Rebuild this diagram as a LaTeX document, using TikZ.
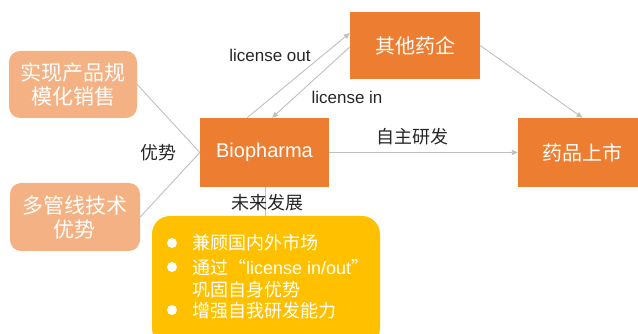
\documentclass[tikz,border=0pt]{standalone}
\usepackage{fontspec}
\setmainfont{Liberation Sans}
\newfontfamily\cjk{Noto Sans CJK SC}
\usetikzlibrary{arrows.meta,calc}
\definecolor{orng}{HTML}{ED7D31}
\definecolor{lorng}{HTML}{F4B183}
\definecolor{ylw}{HTML}{FFC000}
\definecolor{lgray}{HTML}{BFBFBF}
\definecolor{txt}{HTML}{262626}
\begin{document}
\begin{tikzpicture}[x=1pt,y=-1pt,
  obox/.style={fill=orng,text=white,inner sep=0pt,font=\cjk\fontsize{20}{24}\selectfont},
  abox/.style={fill=lorng,text=white,rounded corners=11pt,inner sep=0pt,align=center,font=\cjk\fontsize{21}{25}\selectfont},
  conn/.style={draw=lgray,line width=0.9pt},
  arr/.style={conn,-{Triangle[length=6pt,width=5pt]}},
  lbl/.style={text=txt,inner sep=0pt,font=\fontsize{17}{20}\selectfont},
  clbl/.style={text=txt,inner sep=0pt,font=\cjk\fontsize{18}{21}\selectfont},
  yline/.style={text=white,inner sep=0pt,anchor=base west,font=\cjk\fontsize{18}{21}\selectfont},
  bullet/.style={circle,fill=white,inner sep=0pt,minimum size=10pt}]
\useasboundingbox (0,0) rectangle (638,334);
% boxes
\node[obox,minimum width=130pt,minimum height=67pt] (other) at (415,45.5) {其他药企};
\node[obox,minimum width=129pt,minimum height=69pt,font=\fontsize{20}{24}\selectfont] (bio) at (264.5,152.5) {Biopharma};
\node[obox,minimum width=129pt,minimum height=69pt] (market) at (582.5,152.5) {药品上市};
\node[abox,minimum width=128pt,minimum height=67pt] (adv1) at (73,84.5) {实现产品规\\[-1pt]模化销售};
\node[abox,minimum width=130pt,minimum height=68pt] (adv2) at (75,217) {多管线技术\\[-1pt]优势};
\node[fill=ylw,rounded corners=18pt,minimum width=228pt,minimum height=130pt,inner sep=0pt] (fut) at (266,281) {};
% connectors
\draw[conn] (adv1.east) -- (bio.west) -- (adv2.east);
\draw[arr] ([xshift=-17.5pt]bio.north) -- ([yshift=12.5pt]other.west);
\draw[arr] ([yshift=-1.5pt]other.west) -- ([xshift=7.5pt]bio.north);
\draw[arr] (bio.east) -- (market.west);
\draw[arr] (other.east) -- (market.north);
\draw[conn] ([xshift=0.5pt]bio.south) -- ([xshift=0.5pt]bio.south |- fut.north);
% labels
\node[clbl] (lbladv) at (158,153) {优势};
\node[lbl] (lblout) at (270,55) {license out};
\node[lbl] (lblin) at (347,97) {license in};
\node[clbl] (lblown) at (412,137) {自主研发};
\node[clbl] (lblfut) at (267,203) {未来发展};
% yellow box content
\node[bullet] (b1) at (172,243) {};
\node[bullet] (b2) at (172,267) {};
\node[bullet] (b3) at (172,310) {};
\node[yline] (t1) at (192,250) {兼顾国内外市场};
\node[yline] (t2) at (192,274) {通过“{\fontspec{Liberation Sans}license in/out}”};
\node[yline] (t3) at (192,296) {巩固自身优势};
\node[yline] (t4) at (192,317) {增强自我研发能力};
\end{tikzpicture}
\end{document}
